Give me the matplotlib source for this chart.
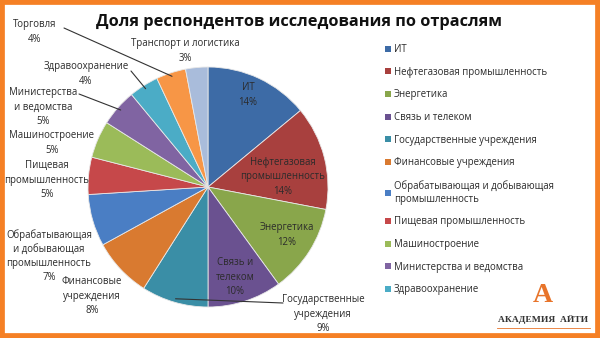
import numpy as np
import matplotlib
matplotlib.use("Agg")
import matplotlib.pyplot as plt
from matplotlib.patches import Rectangle

plt.rcParams['font.family'] = ['Open Sans', 'DejaVu Sans']

title = "Доля респондентов исследования по отраслям"
categories = [
    "ИТ", "Нефтегазовая промышленность", "Энергетика", "Связь и телеком",
    "Государственные учреждения", "Финансовые учреждения",
    "Обрабатывающая и добывающая промышленность", "Пищевая промышленность",
    "Машиностроение", "Министерства и ведомства", "Здравоохранение",
    "Торговля", "Транспорт и логистика",
]
values = [14, 14, 12, 10, 9, 8, 7, 5, 5, 5, 4, 4, 3]
legend_labels = categories[:11]
legend_labels = [l if l != "Обрабатывающая и добывающая промышленность"
                 else "Обрабатывающая и добывающая\nпромышленность" for l in legend_labels]
slice_labels = [
    "ИТ", "Нефтегазовая\nпромышленность", "Энергетика", "Связь и\nтелеком",
    "Государственные\nучреждения", "Финансовые\nучреждения",
    "Обрабатывающая\nи добывающая\nпромышленность", "Пищевая\nпромышленность",
    "Машиностроение", "Министерства\nи ведомства", "Здравоохранение",
    "Торговля", "Транспорт и логистика",
]
colors = ["#3D6BA6", "#A8403E", "#89A64B", "#6A5190", "#3A8EA6", "#D97A30",
          "#4A7EC4", "#C6484A", "#9BBB59", "#8064A2", "#4BACC6", "#F79646",
          "#A9BCDB"]

W, H = 600, 338
fig = plt.figure(figsize=(W / 100, H / 100), dpi=100)
fig.patch.set_facecolor("white")

# pie axes: center (208,187) px, radius 120 px
cx, cy, R = 208, 187, 120
ax = fig.add_axes([(cx - R) / W, (H - cy - R) / H, 2 * R / W, 2 * R / H])
wedges, _ = ax.pie(values, colors=colors, startangle=90, counterclock=False,
                   radius=1.0, wedgeprops=dict(edgecolor="#e8e8e8", linewidth=0.6))
ax.set_xlim(-1, 1)
ax.set_ylim(-1, 1)
ax.set_aspect("equal")
ax.axis("off")

# label positions (pixel centers, y from top) and leader start points
label_pos = [(248, 95), (283, 177), (287, 235), (235, 277), (323, 314),
             (92, 296), (49, 256), (47, 180), (52, 143), (43, 107),
             (86, 74), (35, 32), (185, 51)]
leaders = {4: (283, 303), 11: (64, 28), 10: (131, 71), 9: (79, 94)}

total = sum(values)
cum = 0
for i, v in enumerate(values):
    mid = 90 - (cum + v / 2) / total * 360
    cum += v
    px, py = label_pos[i]
    txt = f"{slice_labels[i]}\n{v}%"
    fig.text(px / W, 1 - py / H, txt, ha="center", va="center", fontsize=6.9,
             color="#2b2b2b", linespacing=1.4)
    if i in leaders:
        lx, ly = leaders[i]
        tx = np.cos(np.radians(mid)) * 0.97
        ty = np.sin(np.radians(mid)) * 0.97
        ax.annotate("", xy=(tx, ty), xycoords="data",
                    xytext=(lx / W, 1 - ly / H), textcoords="figure fraction",
                    arrowprops=dict(arrowstyle="-", color="#333333", lw=0.8,
                                    shrinkA=0, shrinkB=0),
                    annotation_clip=False)

fig.text(299 / W, 1 - 22 / H, title, ha="center", va="center", fontsize=11.8,
         fontweight="bold", color="#111111")

leg = fig.legend(wedges[:11], legend_labels, loc="upper left",
                 bbox_to_anchor=(385 / W, 1 - 44 / H), frameon=False,
                 fontsize=6.9, handlelength=0.6, handleheight=0.6,
                 handletextpad=0.3, labelspacing=1.22, borderaxespad=0,
                 borderpad=0)
for t in leg.get_texts():
    t.set_color("#2b2b2b")
for h in leg.legend_handles:
    h.set_edgecolor("none")

# logo
fig.text(543 / W, 1 - 295 / H, "A", ha="center", va="center", fontsize=20,
         fontweight="bold", color="#E8742A", family="Liberation Serif")
fig.text(543 / W, 1 - 320 / H, "АКАДЕМИЯ  АЙТИ", ha="center", va="center",
         fontsize=6.8, fontweight="bold", color="#333333",
         family="Liberation Serif")
fig.add_artist(plt.Line2D([497 / W, 590 / W], [1 - 328 / H, 1 - 328 / H],
                          color="#E8742A", lw=0.6, transform=fig.transFigure))

# orange frame
fig.add_artist(Rectangle((0, 0), 1, 1, transform=fig.transFigure, fill=False,
                         edgecolor="#F58025", linewidth=7))

fig.savefig("out.png", dpi=100)
